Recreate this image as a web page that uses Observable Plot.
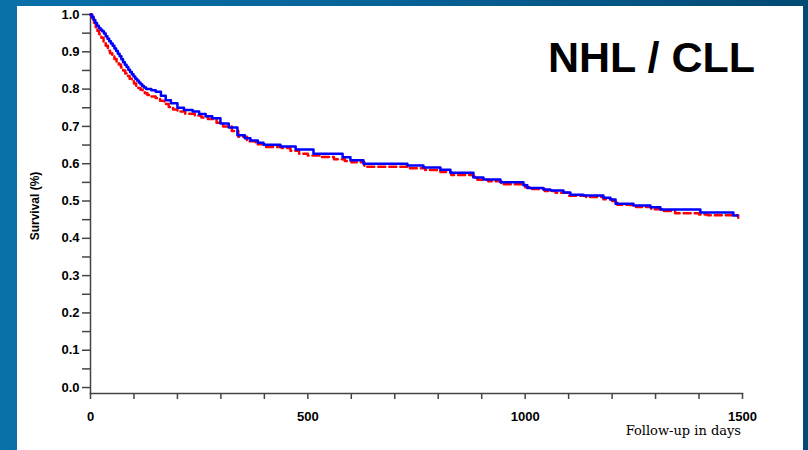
<!DOCTYPE html>
<html>
<head>
<meta charset="utf-8">
<script src="https://cdn.jsdelivr.net/npm/d3@7"></script>
<script src="https://cdn.jsdelivr.net/npm/@observablehq/plot@0.6"></script>
<style>
  html, body { margin: 0; padding: 0; }
  body { width: 808px; height: 450px; overflow: hidden; position: relative;
         background: linear-gradient(90deg, #0a70a8 0%, #06639a 45%, #004a73 100%); }
  #panel { position: absolute; left: 17px; top: 6px; width: 786px; height: 444px; background: #fff; }
  #chart { position: absolute; left: 0; top: 0; }
  .txt { position: absolute; color: #000; white-space: nowrap; }
  #title { left: 548px; top: 33px; font: bold 43px "Liberation Sans", Arial, sans-serif; }
  #ylab { left: 35px; top: 206px; transform: translate(-50%, -50%) rotate(-90deg);
          font: bold 12px "Liberation Sans", Arial, sans-serif; }
  #xlab { right: 67px; top: 423px; font: 13px "DejaVu Serif", serif; }
</style>
</head>
<body>
<div id="panel"></div>
<div id="chart"></div>
<div class="txt" id="title">NHL / CLL</div>
<div class="txt" id="ylab">Survival (%)</div>
<div class="txt" id="xlab">Follow-up in days</div>
<script>
// Blue (solid) survival curve
const blueDays = [0, 3, 7, 11, 15, 19, 23, 27, 31, 35, 39, 43, 47, 51, 55, 59, 63, 67, 71, 75, 79, 83, 87, 91, 95, 99, 103, 107, 111, 115, 119, 123, 128, 140, 150, 162, 173, 185, 200, 215, 235, 250, 265, 280, 299, 318, 338, 355, 368, 385, 398, 437, 472, 513, 580, 598, 628, 729, 766, 805, 828, 881, 904, 943, 996, 1005, 1042, 1058, 1088, 1104, 1134, 1180, 1196, 1208, 1249, 1288, 1311, 1403, 1479, 1488];
const blueSurv = [1.0, 0.994, 0.985, 0.977, 0.970, 0.964, 0.959, 0.955, 0.949, 0.942, 0.935, 0.928, 0.922, 0.916, 0.909, 0.902, 0.895, 0.888, 0.880, 0.872, 0.865, 0.859, 0.852, 0.846, 0.840, 0.834, 0.828, 0.823, 0.818, 0.813, 0.808, 0.804, 0.800, 0.797, 0.793, 0.782, 0.770, 0.762, 0.750, 0.744, 0.740, 0.733, 0.727, 0.722, 0.708, 0.697, 0.676, 0.668, 0.662, 0.656, 0.651, 0.646, 0.638, 0.627, 0.617, 0.609, 0.600, 0.595, 0.590, 0.584, 0.576, 0.563, 0.558, 0.550, 0.542, 0.535, 0.531, 0.528, 0.523, 0.517, 0.515, 0.509, 0.504, 0.493, 0.488, 0.483, 0.477, 0.469, 0.461, 0.461];

// Red (dashed) survival curve
const redDays = [0, 4, 8, 12, 16, 20, 25, 30, 35, 40, 45, 50, 55, 60, 65, 70, 75, 80, 85, 90, 95, 100, 105, 110, 115, 120, 125, 131, 140, 150, 160, 170, 180, 190, 200, 218, 240, 255, 270, 290, 305, 325, 340, 360, 380, 400, 440, 460, 480, 500, 530, 560, 585, 600, 630, 720, 735, 770, 805, 830, 880, 890, 915, 945, 1000, 1010, 1045, 1070, 1100, 1140, 1180, 1200, 1212, 1240, 1255, 1290, 1315, 1345, 1400, 1420, 1480, 1490];
const redSurv = [1.0, 0.99, 0.978, 0.966, 0.956, 0.947, 0.938, 0.927, 0.916, 0.903, 0.896, 0.889, 0.881, 0.873, 0.866, 0.858, 0.850, 0.842, 0.835, 0.828, 0.821, 0.815, 0.809, 0.803, 0.798, 0.794, 0.789, 0.784, 0.780, 0.776, 0.769, 0.760, 0.752, 0.745, 0.740, 0.734, 0.729, 0.724, 0.72, 0.71, 0.7, 0.688, 0.672, 0.66, 0.652, 0.645, 0.642, 0.635, 0.627, 0.622, 0.618, 0.612, 0.607, 0.604, 0.592, 0.592, 0.588, 0.583, 0.578, 0.57, 0.566, 0.557, 0.553, 0.545, 0.537, 0.532, 0.527, 0.522, 0.514, 0.511, 0.505, 0.5, 0.49, 0.489, 0.484, 0.478, 0.473, 0.467, 0.464, 0.462, 0.462, 0.455];

const xTicks = d3.range(0, 1501, 100);
const xLabeled = [0, 500, 1000, 1500];
const yTicks = d3.range(0, 21).map(i => i * 0.05);

const blue = blueDays.map((d, i) => ({day: d, s: blueSurv[i]}));
const red = redDays.map((d, i) => ({day: d, s: redSurv[i]}));

const tickFont = {fontSize: 13, fontWeight: "bold", fontFamily: "Liberation Sans, Arial, sans-serif"};

const chart = Plot.plot({
  width: 808,
  height: 450,
  marginTop: 14,
  marginBottom: 57,
  marginLeft: 90,
  marginRight: 66,
  style: {background: "transparent", color: "#000", ...tickFont},
  x: {domain: [0, 1500]},
  y: {domain: [-0.016, 1.0]},
  marks: [
    Plot.axisY({
      ticks: yTicks,
      tickSize: 8,
      tickPadding: 3,
      tickFormat: d => (Math.round(d * 100) % 10 === 0 ? d.toFixed(1) : ""),
      stroke: "#444",
      strokeWidth: 1.5,
      label: null,
      fill: "#000"
    }),
    Plot.axisX({
      ticks: xTicks,
      tickSize: 6,
      tickPadding: 12,
      tickFormat: d => (xLabeled.includes(d) ? String(d) : ""),
      stroke: "#444",
      strokeWidth: 1.5,
      label: null,
      fill: "#000"
    }),
    Plot.frame({anchor: "left", stroke: "#444", strokeWidth: 1.5}),
    Plot.frame({anchor: "bottom", stroke: "#444", strokeWidth: 1.5}),
    Plot.line(red, {x: "day", y: "s", curve: "step-after", stroke: "#ff0000", strokeWidth: 2.5, strokeDasharray: "7,4"}),
    Plot.line(blue, {x: "day", y: "s", curve: "step-after", stroke: "#0000ff", strokeWidth: 2.5})
  ]
});
document.getElementById("chart").appendChild(chart);
</script>
</body>
</html>
